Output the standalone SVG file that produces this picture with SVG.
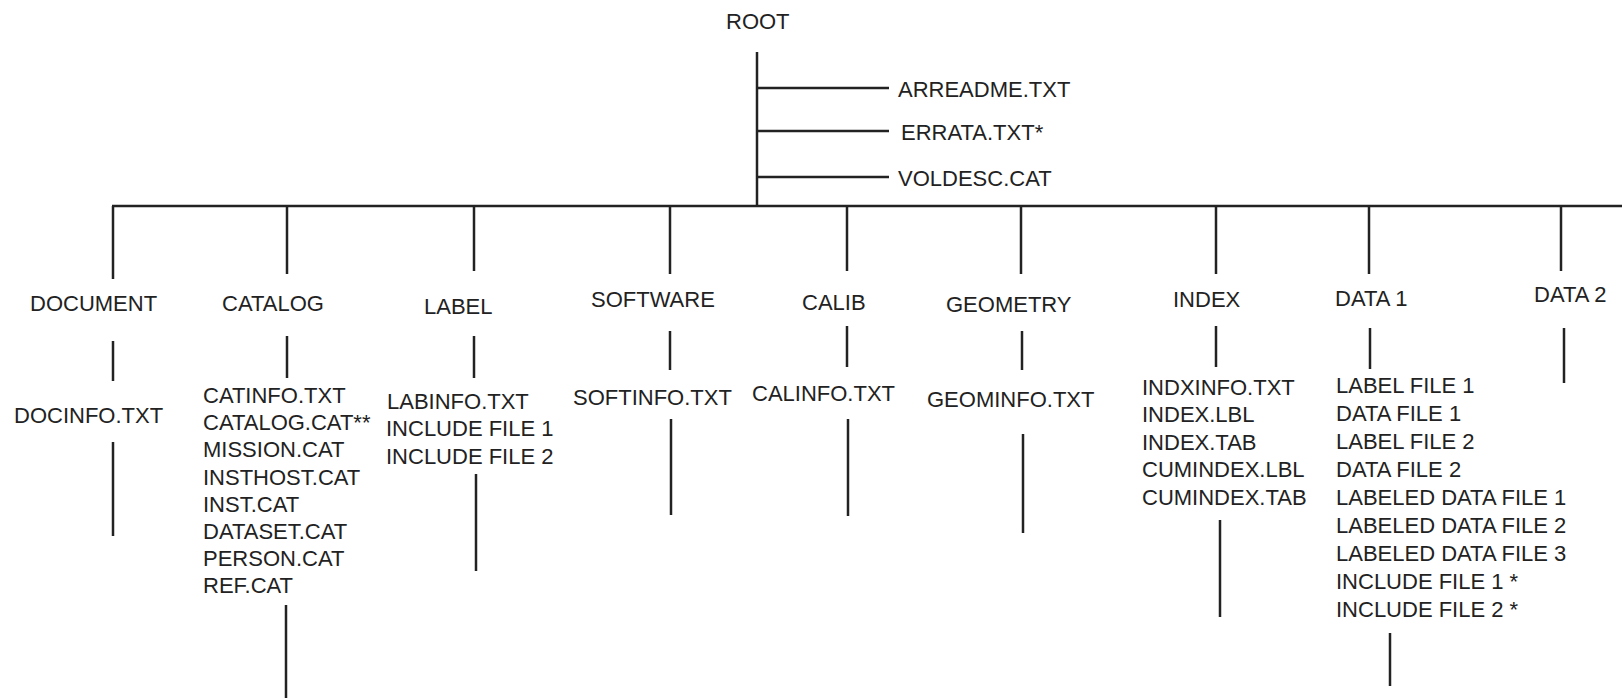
<svg xmlns="http://www.w3.org/2000/svg" width="1622" height="698" viewBox="0 0 1622 698">
<style>
text{font-family:"Liberation Sans",Arial,Helvetica,sans-serif;font-size:22px;fill:#222}
.c line{stroke:#222;stroke-width:2.5;fill:none}
</style>
<rect width="1622" height="698" fill="#fff"/>
<g id="connectors" class="c">
<line x1="757" y1="52" x2="757" y2="206"/>
<line x1="757" y1="88" x2="889" y2="88"/>
<line x1="757" y1="131" x2="889" y2="131"/>
<line x1="757" y1="177" x2="889" y2="177"/>
<line x1="112" y1="206" x2="1622" y2="206"/>
<line x1="113" y1="206" x2="113" y2="279"/>
<line x1="287" y1="206" x2="287" y2="274"/>
<line x1="474" y1="206" x2="474" y2="271"/>
<line x1="670" y1="206" x2="670" y2="274"/>
<line x1="847" y1="206" x2="847" y2="271"/>
<line x1="1021" y1="206" x2="1021" y2="274"/>
<line x1="1216" y1="206" x2="1216" y2="274"/>
<line x1="1369" y1="206" x2="1369" y2="274"/>
<line x1="1561" y1="206" x2="1561" y2="271"/>
<line x1="113" y1="341" x2="113" y2="381"/>
<line x1="287" y1="336" x2="287" y2="378"/>
<line x1="474" y1="336" x2="474" y2="378"/>
<line x1="670" y1="331" x2="670" y2="370"/>
<line x1="847" y1="326" x2="847" y2="367"/>
<line x1="1022" y1="331" x2="1022" y2="370"/>
<line x1="1216" y1="326" x2="1216" y2="367"/>
<line x1="1370" y1="328" x2="1370" y2="369"/>
<line x1="1564" y1="328" x2="1564" y2="383"/>
<line x1="113" y1="442" x2="113" y2="536"/>
<line x1="286" y1="605" x2="286" y2="698"/>
<line x1="476" y1="474" x2="476" y2="571"/>
<line x1="671" y1="419" x2="671" y2="515"/>
<line x1="848" y1="419" x2="848" y2="516"/>
<line x1="1023" y1="434" x2="1023" y2="533"/>
<line x1="1220" y1="520" x2="1220" y2="617"/>
<line x1="1390" y1="633" x2="1390" y2="686"/>
</g>
<g id="root"><text x="726" y="29">ROOT</text></g>
<g id="arreadme"><text x="898" y="97">ARREADME.TXT</text></g>
<g id="errata"><text x="901" y="140">ERRATA.TXT*</text></g>
<g id="voldesc"><text x="898" y="186">VOLDESC.CAT</text></g>
<g id="document"><text x="30" y="311">DOCUMENT</text></g>
<g id="catalog"><text x="222" y="311">CATALOG</text></g>
<g id="label"><text x="424" y="314">LABEL</text></g>
<g id="software"><text x="591" y="307">SOFTWARE</text></g>
<g id="calib"><text x="802" y="310">CALIB</text></g>
<g id="geometry"><text x="946" y="312">GEOMETRY</text></g>
<g id="index"><text x="1173" y="307">INDEX</text></g>
<g id="data1"><text x="1335" y="306">DATA 1</text></g>
<g id="data2"><text x="1534" y="302">DATA 2</text></g>
<g id="docinfo"><text x="14" y="423">DOCINFO.TXT</text></g>
<g id="catalog-files"><text x="203" y="403">CATINFO.TXT</text><text x="203" y="430">CATALOG.CAT**</text><text x="203" y="457">MISSION.CAT</text><text x="203" y="485">INSTHOST.CAT</text><text x="203" y="512">INST.CAT</text><text x="203" y="539">DATASET.CAT</text><text x="203" y="566">PERSON.CAT</text><text x="203" y="593">REF.CAT</text></g>
<g id="label-files"><text x="387" y="409">LABINFO.TXT</text><text x="386" y="436">INCLUDE FILE 1</text><text x="386" y="464">INCLUDE FILE 2</text></g>
<g id="softinfo"><text x="573" y="405">SOFTINFO.TXT</text></g>
<g id="calinfo"><text x="752" y="401">CALINFO.TXT</text></g>
<g id="geominfo"><text x="927" y="407">GEOMINFO.TXT</text></g>
<g id="index-files"><text x="1142" y="395">INDXINFO.TXT</text><text x="1142" y="422">INDEX.LBL</text><text x="1142" y="450">INDEX.TAB</text><text x="1142" y="477">CUMINDEX.LBL</text><text x="1142" y="505">CUMINDEX.TAB</text></g>
<g id="data1-files"><text x="1336" y="393">LABEL FILE 1</text><text x="1336" y="421">DATA FILE 1</text><text x="1336" y="449">LABEL FILE 2</text><text x="1336" y="477">DATA FILE 2</text><text x="1336" y="505">LABELED DATA FILE 1</text><text x="1336" y="533">LABELED DATA FILE 2</text><text x="1336" y="561">LABELED DATA FILE 3</text><text x="1336" y="589">INCLUDE FILE 1 *</text><text x="1336" y="617">INCLUDE FILE 2 *</text></g>
</svg>
